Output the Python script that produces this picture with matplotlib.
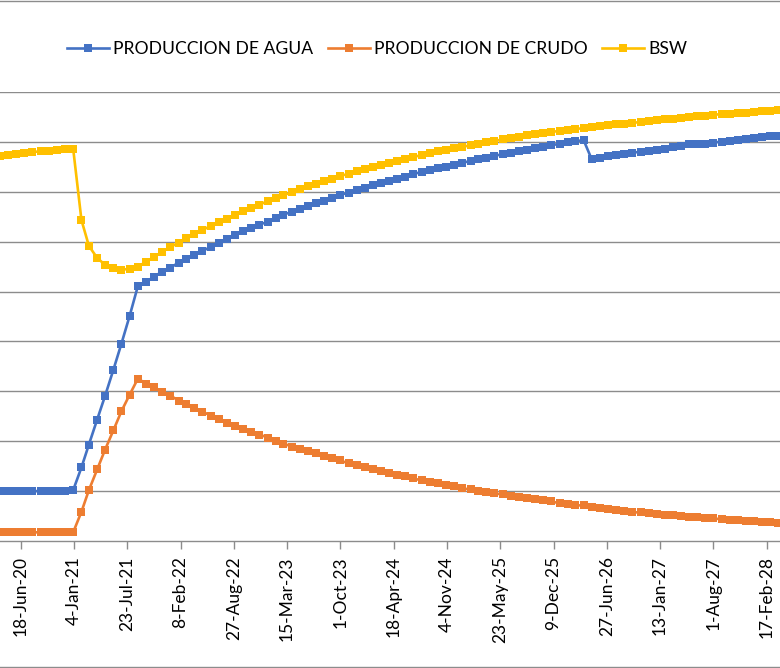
import matplotlib
matplotlib.use("Agg")
import matplotlib.pyplot as plt
import matplotlib.dates as mdates
from matplotlib.lines import Line2D
import pandas as pd
from datetime import datetime, timedelta

# ---------------- data ----------------
months = pd.date_range("2020-04-01", periods=97, freq="MS")

agua = [1000, 1000, 1000, 1000, 1000, 1000, 1000, 1000, 1000, 1020,
        1474, 1934, 2434, 2914, 3434, 3954, 4514, 5114, 5190, 5300,
        5400, 5480, 5580, 5660, 5734, 5814, 5894, 5974, 6054, 6134,
        6206, 6280, 6340, 6400, 6480, 6540, 6600, 6660, 6714, 6780,
        6814, 6880, 6940, 6980, 7040, 7080, 7126, 7174, 7220, 7260,
        7300, 7354, 7400, 7440, 7480, 7500, 7540, 7580, 7620, 7660,
        7680, 7720, 7754, 7780, 7814, 7840, 7874, 7900, 7934, 7960,
        7994, 8014, 8034, 7654, 7674, 7714, 7740, 7760, 7786, 7800,
        7820, 7840, 7854, 7900, 7926, 7954, 7960, 7960, 7986, 8006,
        8020, 8040, 8060, 8074, 8094, 8114, 8120]

crudo = [174, 174, 174, 174, 174, 174, 174, 174, 174, 174,
         586, 1020, 1434, 1834, 2220, 2600, 2934, 3256, 3154, 3080,
         2994, 2914, 2814, 2754, 2674, 2594, 2514, 2454, 2374, 2314,
         2254, 2194, 2134, 2074, 2014, 1954, 1894, 1854, 1794, 1754,
         1694, 1654, 1614, 1554, 1514, 1474, 1434, 1394, 1354, 1314,
         1294, 1254, 1214, 1174, 1154, 1116, 1094, 1054, 1034, 994,
         974, 954, 934, 894, 874, 854, 834, 814, 794, 754,
         734, 714, 714, 674, 654, 634, 614, 594, 574, 574,
         554, 534, 514, 514, 494, 474, 474, 454, 454, 434,
         414, 414, 394, 394, 374, 374, 354]

bsw = [7714, 7734, 7760, 7780, 7794, 7814, 7826, 7846, 7860, 7860,
       6434, 5914, 5674, 5534, 5474, 5434, 5460, 5500, 5594, 5694,
       5794, 5894, 5980, 6074, 6154, 6234, 6314, 6386, 6460, 6540,
       6614, 6674, 6740, 6814, 6874, 6934, 6986, 7054, 7114, 7160,
       7214, 7254, 7320, 7360, 7420, 7454, 7500, 7540, 7574, 7614,
       7654, 7700, 7734, 7780, 7814, 7840, 7874, 7900, 7934, 7954,
       7994, 8014, 8054, 8080, 8100, 8134, 8160, 8180, 8200, 8220,
       8240, 8260, 8274, 8300, 8320, 8340, 8366, 8366, 8380, 8400,
       8420, 8434, 8454, 8460, 8480, 8500, 8514, 8514, 8540, 8560,
       8560, 8580, 8580, 8594, 8614, 8614, 8634]

tick_labels = ["18-Jun-20", "4-Jan-21", "23-Jul-21", "8-Feb-22", "27-Aug-22",
               "15-Mar-23", "1-Oct-23", "18-Apr-24", "4-Nov-24", "23-May-25",
               "9-Dec-25", "27-Jun-26", "13-Jan-27", "1-Aug-27", "17-Feb-28"]

series_names = ["PRODUCCION DE AGUA", "PRODUCCION DE CRUDO", "BSW"]
colors = ["#4472C4", "#ED7D31", "#FFC000"]

# ---------------- figure ----------------
plt.rcParams["font.family"] = ["Lato", "DejaVu Sans"]
W, H = 780, 668
fig = plt.figure(figsize=(W / 100, H / 100), dpi=100)

ax_bottom_px, ax_top_px = 541, 92
ax = fig.add_axes([0, (H - ax_bottom_px) / H, 1, (ax_bottom_px - ax_top_px) / H])

lw = 1.9
ms = 5.4
for vals, name, c in zip([agua, crudo, bsw], series_names, colors):
    ax.plot(months, vals, color=c, lw=lw, marker="s", ms=ms,
            markeredgewidth=0, label=name, zorder=3)

tick_dates = [datetime.strptime(t, "%d-%b-%y") for t in tick_labels]
d0 = mdates.date2num(tick_dates[0])
ax.set_xlim(d0 - 77.7, d0 + 2850)
ax.set_ylim(0, 9000)
ax.set_yticks(range(1000, 9001, 1000))
ax.yaxis.grid(True, color="#8c8c8c", lw=1.0)
ax.set_axisbelow(True)
ax.tick_params(axis="y", left=False, labelleft=False)

ax.set_xticks([mdates.date2num(d) for d in tick_dates])
ax.set_xticklabels(tick_labels, rotation=90, fontsize=12.5, color="#000000")
ax.tick_params(axis="x", direction="out", length=6, width=1.0,
               color="#8c8c8c", pad=5)

for s in ["top", "left", "right"]:
    ax.spines[s].set_visible(False)
ax.spines["bottom"].set_color("#8c8c8c")
ax.spines["bottom"].set_linewidth(1.0)

# chart-area border (top and bottom visible)
fig.add_artist(Line2D([0, 1], [1 - 0.5 / H, 1 - 0.5 / H], transform=fig.transFigure,
                      color="#8c8c8c", lw=1.0))
fig.add_artist(Line2D([0, 1], [1.5 / H, 1.5 / H], transform=fig.transFigure,
                      color="#8c8c8c", lw=1.0))

handles = [Line2D([], [], color=c, lw=lw, marker="s", ms=ms, markeredgewidth=0)
           for c in colors]
fig.legend(handles, series_names, loc="center", ncol=3,
           bbox_to_anchor=(377 / W, 1 - 49 / H), frameon=False,
           fontsize=12.6, handlelength=2.4, handletextpad=0.25,
           columnspacing=0.8, borderaxespad=0)

fig.savefig("out.png", dpi=100)
